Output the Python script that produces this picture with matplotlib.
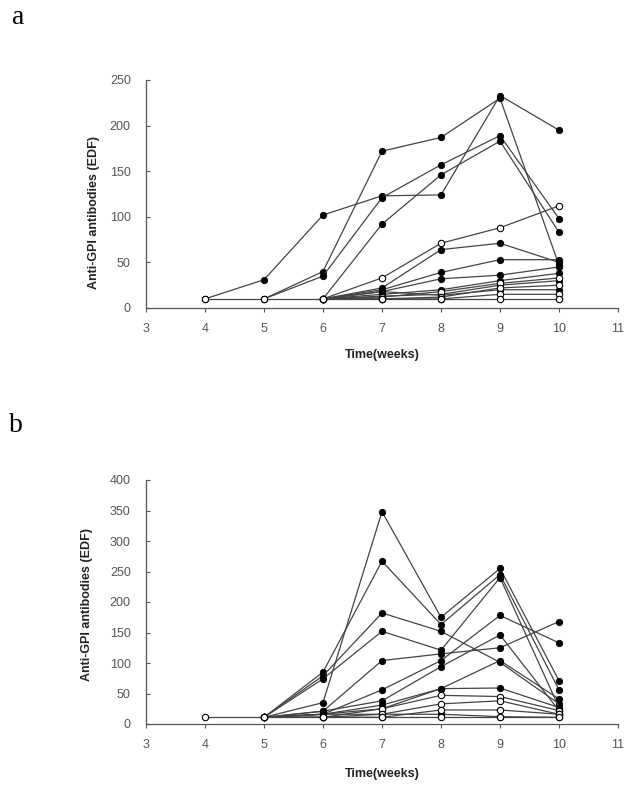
import numpy as np
import matplotlib
matplotlib.use("Agg")
import matplotlib.pyplot as plt

nan = np.nan
weeks = [4, 5, 6, 7, 8, 9, 10]

# panel a - filled circle series (weeks 4..10)
a_f1 = [10, 31, 102, 123, 124, 233, 195]
a_f2 = [nan, 10, 40, 172, 187, 230, 47]
a_f3 = [nan, 10, 35, 121, 157, 189, 98]
a_f4 = [nan, nan, 10, 92, 146, 183, 83]
a_f5 = [nan, nan, 10, 22, 64, 71, 50]
a_f6 = [nan, nan, 10, 20, 39, 53, 53]
a_f7 = [nan, nan, 10, 18, 32, 36, 45]
a_f8 = [nan, nan, 10, 15, 20, 30, 38]
a_f9 = [nan, nan, 10, 13, 15, 25, 30]
a_f10 = [nan, nan, 10, 18, 14, 20, 20]
# panel a - open circle series
a_o1 = [nan, nan, 10, 33, 71, 88, 112]
a_o2 = [nan, nan, 10, 12, 18, 27, 33]
a_o3 = [nan, nan, 10, 10, 12, 22, 25]
a_o4 = [nan, nan, 10, 10, 10, 15, 15]
a_o5 = [10, 10, 10, 10, 10, 10, 10]

# panel b - filled circle series
b_f1 = [nan, 11, 35, 348, 175, 255, 71]
b_f2 = [nan, 11, 85, 267, 163, 245, 56]
b_f3 = [nan, 11, 79, 182, 152, 101, 33]
b_f4 = [nan, 11, 74, 152, 121, 240, 27]
b_f5 = [nan, 11, 21, 104, 115, 125, 168]
b_f6 = [nan, 11, 16, 56, 104, 178, 133]
b_f7 = [nan, 11, 21, 38, 94, 146, 22]
b_f8 = [nan, 11, 16, 31, 58, 104, 41]
b_f9 = [nan, 11, 16, 25, 58, 59, 27]
b_f10 = [nan, 11, 16, 16, 16, 12, 11]
# panel b - open circle series
b_o1 = [nan, 11, 11, 25, 47, 45, 22]
b_o2 = [nan, 11, 11, 16, 33, 38, 16]
b_o3 = [nan, 11, 11, 11, 23, 23, 16]
b_o4 = [11, 11, 11, 11, 11, 11, 11]

a_filled = [a_f1, a_f2, a_f3, a_f4, a_f5, a_f6, a_f7, a_f8, a_f9, a_f10]
a_open = [a_o1, a_o2, a_o3, a_o4, a_o5]
b_filled = [b_f1, b_f2, b_f3, b_f4, b_f5, b_f6, b_f7, b_f8, b_f9, b_f10]
b_open = [b_o1, b_o2, b_o3, b_o4]

plt.rcParams['font.family'] = ['Liberation Sans', 'DejaVu Sans']

fig = plt.figure(figsize=(6.31, 7.87), dpi=100)
L, R = 146 / 631, 618 / 631
ax_a = fig.add_axes([L, 1 - 308 / 787, R - L, 228 / 787])
ax_b = fig.add_axes([L, 1 - 724 / 787, R - L, 244 / 787])

def draw(ax, filled, opened, ymax, step, lab_x, lab_y):
    # filled series first, open ones drawn over them
    for s in filled:
        ax.plot(weeks, s, '-', color='#444444', lw=0.9, marker='o', ms=4.6,
                mfc='black', mec='black', mew=0.6)
    for s in opened:
        ax.plot(weeks, s, '-', color='#444444', lw=0.9, marker='o', ms=4.6,
                mfc='white', mec='black', mew=0.8)
    ax.set_xlim(3, 11)
    ax.set_ylim(0, ymax)
    ax.set_xticks(range(3, 12))
    ax.set_yticks(np.arange(0, ymax + 1, step))
    for side in ['top', 'right']:
        ax.spines[side].set_visible(False)
    for side in ['left', 'bottom']:
        ax.spines[side].set_color('#555555')
        ax.spines[side].set_linewidth(0.9)
    ax.tick_params(axis='x', direction='out', length=3, width=0.8, color='#555555',
                   labelsize=9, labelcolor='#555555', pad=8)
    ax.tick_params(axis='y', direction='in', length=3, width=0.8, color='#555555',
                   labelsize=9, labelcolor='#555555', pad=11)
    ax.set_xlabel('Time(weeks)', fontsize=9, fontweight='bold', color='#222222')
    ax.xaxis.set_label_coords(0.5, -0.18)
    ax.set_ylabel('Anti-GPI antibodies (EDF)', fontsize=9, fontweight='bold', color='#222222')
    ax.yaxis.set_label_coords(lab_x, lab_y)

draw(ax_a, a_filled, a_open, 250, 50, -0.097, 0.42)
draw(ax_b, b_filled, b_open, 400, 50, -0.112, 0.49)

fig.text(18 / 631, 1 - 17 / 787, 'a', family='Liberation Serif', fontsize=20, ha='center', va='center')
fig.text(16 / 631, 1 - 425 / 787, 'b', family='Liberation Serif', fontsize=20, ha='center', va='center')

fig.savefig('out.png', dpi=100)
